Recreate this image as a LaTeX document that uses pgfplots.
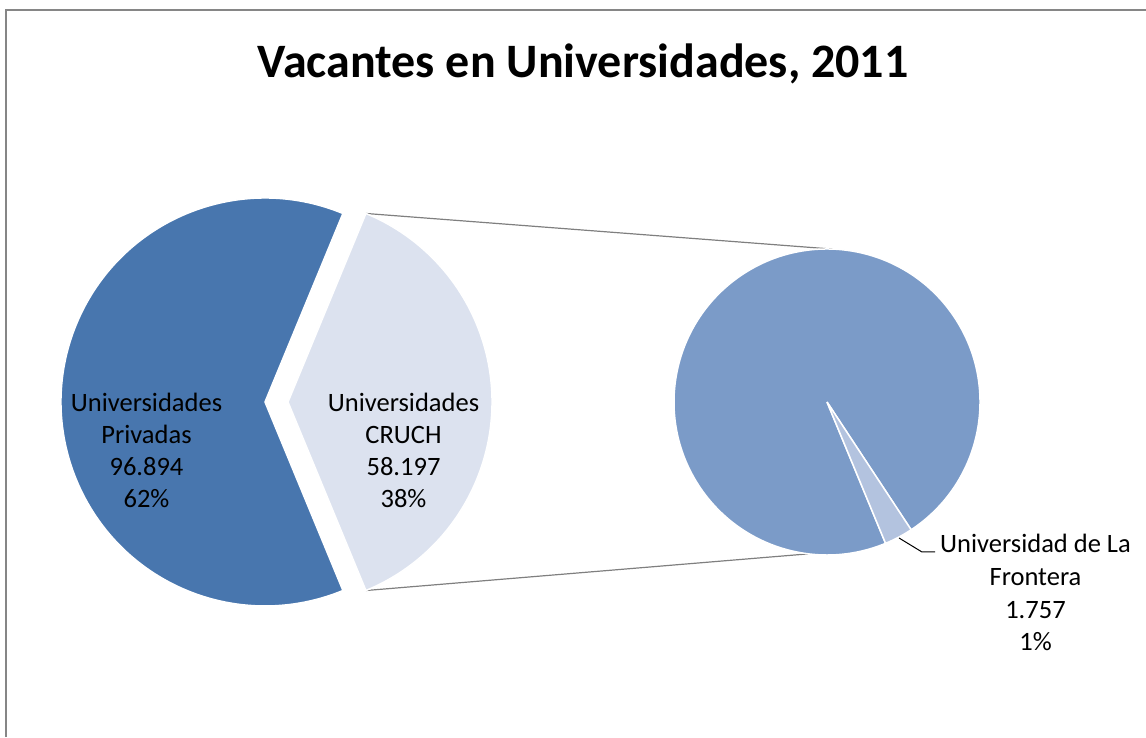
\documentclass[border=0pt]{standalone}
\usepackage{fontspec}
\setmainfont{Carlito}
\usepackage{pgfplots}
\usepackage{pgfplotstable}
\pgfplotsset{compat=1.18}
\definecolor{cPriv}{HTML}{4876AE}
\definecolor{cCruch}{HTML}{DCE2EF}
\definecolor{cRest}{HTML}{7B9BC8}
\definecolor{cFront}{HTML}{B3C3DF}
\definecolor{cFrame}{HTML}{868686}
\definecolor{cConn}{HTML}{7F7F7F}

\pgfplotstableread{
name value
Privadas 96894
CRUCH 58197
Frontera 1757
}\piedata

\newcommand{\lbl}[3]{\node[anchor=base, font=\fontsize{26.5}{32}\selectfont, inner sep=0pt] at (axis cs:#1,#2) {#3};}

\begin{document}
\begin{tikzpicture}
\pgfplotstablegetelem{0}{value}\of\piedata \let\vPriv\pgfplotsretval
\pgfplotstablegetelem{1}{value}\of\piedata \let\vCruch\pgfplotsretval
\pgfplotstablegetelem{2}{value}\of\piedata \let\vFront\pgfplotsretval
\edef\aCruch{\fpeval{360*\vCruch/(\vPriv+\vCruch)}}
\edef\hC{\fpeval{\aCruch/2}}
\edef\hCe{\fpeval{360-\aCruch/2}}
\edef\fS{-67.5}
\edef\fE{\fpeval{-67.5+360*\vFront/\vCruch}}
\edef\fR{\fpeval{-67.5+360}}
\useasboundingbox (0,0) rectangle (1146pt,737pt);
\begin{axis}[at={(0,0)}, anchor=south west, width=1146pt, height=737pt,
  scale only axis, xmin=0, xmax=1146, ymin=0, ymax=737, hide axis, clip=false]
  % frame
  \draw[cFrame, line width=2pt] (axis cs:5.5,0) -- (axis cs:5.5,726.5) -- (axis cs:1146,726.5);
  % title
  \node[anchor=base, font=\fontsize{48}{56}\selectfont\bfseries, inner sep=0pt] at (axis cs:583,659) {Vacantes en Universidades, 2011};
  % connector lines
  \draw[cConn, line width=1.2pt] ([shift={(\hC:204pt)}]axis cs:288,335) -- ([shift={(88:153pt)}]axis cs:827,335);
  \draw[cConn, line width=1.2pt] ([shift={(-\hC:204pt)}]axis cs:288,335) -- ([shift={(-97:153pt)}]axis cs:827,335);
  % main pie
  \filldraw[fill=cPriv, draw=white, line width=1.5pt] (axis cs:265,335) -- ++(\hC:204pt) arc[start angle=\hC, end angle=\hCe, radius=204pt] -- cycle;
  \filldraw[fill=cCruch, draw=white, line width=1.5pt] (axis cs:288,335) -- ++(-\hC:204pt) arc[start angle=-\hC, end angle=\hC, radius=204pt] -- cycle;
  % secondary pie
  \filldraw[fill=cRest, draw=white, line width=1.5pt] (axis cs:827,335) -- ++(\fE:153pt) arc[start angle=\fE, end angle=\fR, radius=153pt] -- cycle;
  \filldraw[fill=cFront, draw=white, line width=1.5pt] (axis cs:827,335) -- ++(\fS:153pt) arc[start angle=\fS, end angle=\fE, radius=153pt] -- cycle;
  % leader
  \draw[black, line width=1pt] (axis cs:899,199) -- (axis cs:922,185) -- (axis cs:935,185);
  % labels
  \lbl{146.5}{325}{Universidades}
  \lbl{146.5}{293}{Privadas}
  \lbl{146.5}{261}{96.894}
  \lbl{146.5}{229}{62\%}
  \lbl{403.5}{325}{Universidades}
  \lbl{403.5}{293}{CRUCH}
  \lbl{403.5}{261}{58.197}
  \lbl{403.5}{229}{38\%}
  \lbl{1035.5}{184}{Universidad de La}
  \lbl{1035.5}{151.5}{Frontera}
  \lbl{1035.5}{119}{1.757}
  \lbl{1035.5}{86.5}{1\%}
\end{axis}
\end{tikzpicture}
\end{document}
